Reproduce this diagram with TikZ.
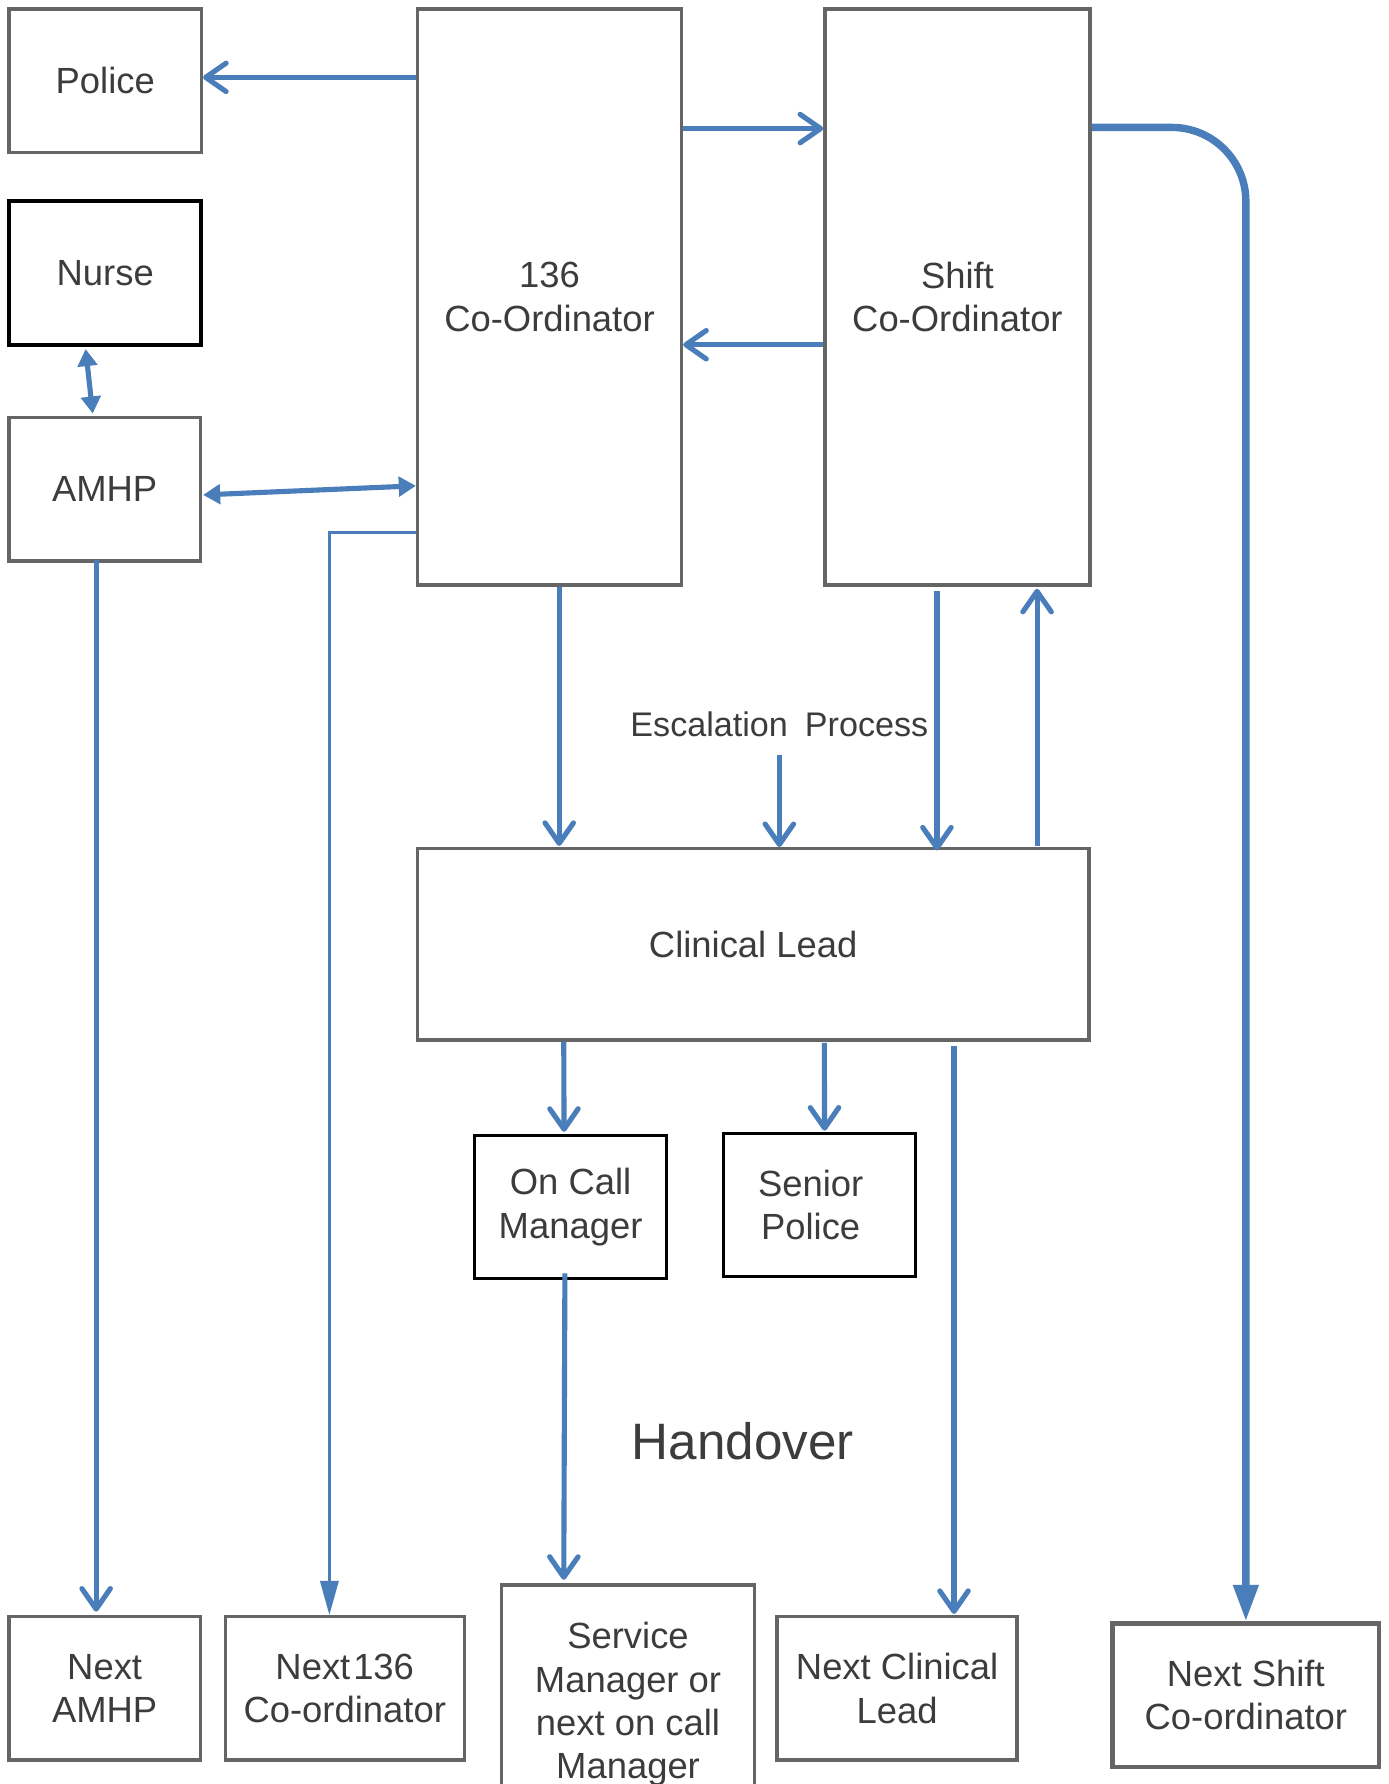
\documentclass[tikz,border=0pt]{standalone}
\usepackage{fontspec}
\setmainfont{Liberation Sans}
\usetikzlibrary{arrows.meta,calc}

\definecolor{linkblue}{HTML}{4A7EBB}
\definecolor{edgegray}{HTML}{656565}
\definecolor{inkgray}{HTML}{3C3C3C}

\tikzset{
  box/.style={draw=edgegray, line width=3pt, fill=white, rectangle,
              inner sep=0pt, align=center, text=inkgray,
              font=\fontsize{32}{38}\selectfont},
  darkbox/.style={box, draw=black},
  label/.style={text=inkgray, inner sep=0pt},
  link/.style={draw=linkblue, line width=4.5pt},
  openhead/.style={link, -{Straight Barb[length=18pt,width=25pt,line cap=round,line join=round]}},
  fillhead/.style={link, {Triangle[length=15pt,width=17pt]}-{Triangle[length=15pt,width=17pt]}},
}

\begin{document}
\begin{tikzpicture}[x=1pt,y=-1pt]
  \useasboundingbox (0,0) rectangle (1220,1568);
  \clip (0,0) rectangle (1220,1568);
  \fill[white] (0,0) rectangle (1220,1568);

  % upper row
  \node[box, minimum width=169pt, minimum height=126pt] (police) at (92.5,71) {Police};
  \node[darkbox, line width=3.5pt, minimum width=169pt, minimum height=126pt] (nurse) at (92.5,240) {Nurse};
  \node[box, minimum width=168pt, minimum height=126pt] (amhp) at (92,430) {AMHP};
  \node[box, minimum width=232pt, minimum height=506pt] (c136) at (483,261) {136\\Co-Ordinator};
  \node[box, minimum width=233pt, minimum height=506pt] (shift) at (841.5,261) {Shift\\Co-Ordinator};

  % escalation
  \node[label, font=\fontsize{30}{36}\selectfont] (esc) at (685,637) {Escalation\hspace{0.5em}Process};
  \node[box, minimum width=590pt, minimum height=168pt] (clin) at (662,830) {Clinical Lead};
  \node[darkbox, line width=2.5pt, minimum width=169pt, minimum height=126pt] (oncall) at (501.5,1061) {On Call\\Manager};
  \node[darkbox, line width=2.5pt, minimum width=169pt, minimum height=126pt] (senior) at (720.5,1059) {Senior\hspace*{16pt}\\Police\hspace*{16pt}};

  % handover
  \node[label, font=\fontsize{45}{54}\selectfont] (handover) at (653,1267) {Handover};
  \node[box, minimum width=168pt, minimum height=126pt] (nextamhp) at (92,1484) {Next\\AMHP};
  \node[box, minimum width=210pt, minimum height=126pt] (next136) at (303,1484) {Next\hspace{0.08em}136\\Co-ordinator};
  \node[box, minimum width=222pt, minimum height=210pt] (service) at (552,1498) {Service\\Manager or\\next on call\\Manager};
  \node[box, minimum width=211pt, minimum height=126pt] (nextclin) at (788.5,1484) {Next Clinical\\Lead};
  \node[box, line width=4pt, minimum width=234pt, minimum height=126pt] (nextshift) at (1095,1490) {Next Shift\\Co-ordinator};

  % horizontal levels used by the connectors
  \coordinate (lvlpol) at (0,68);
  \coordinate (lvlfwd) at (0,113);
  \coordinate (lvlback) at (0,303);
  \coordinate (lvlnext) at (0,112);
  \coordinate (lvlamhp) at (0,427);
  \coordinate (lvlhand) at (0,468);

  % links between the coordinators and their contacts
  \draw[openhead] (c136.west |- lvlpol) -- (police.east |- lvlpol);
  \draw[openhead] (c136.east |- lvlfwd) -- (shift.west |- lvlfwd);
  \draw[openhead] (shift.west |- lvlback) -- (c136.east |- lvlback);
  \draw[fillhead] ($(nurse.south west)+(69,2)$) -- ($(amhp.north west)+(75,-2)$);
  \draw[fillhead] ($(amhp.east)+(1,5)$) -- (c136.west |- lvlamhp);

  % escalation to the clinical lead
  \draw[openhead] ($(c136.south west)+(126,0)$) -- ($(clin.north west)+(126,-1)$);
  \draw[openhead] ($(esc.south)+(0,15)$) -- (esc.south |- clin.north);
  \draw[openhead] ($(shift.south west)+(100,4)$) -- ($(clin.north west)+(458,3)$);
  \draw[openhead] ($(clin.north west)+(546,-1)$) -- ($(shift.south west)+(188,2)$);
  \draw[openhead] ($(clin.south west)+(130,0)$) -- ($(oncall.north west)+(80,-2)$);
  \draw[openhead] ($(clin.south west)+(359,1)$) -- ($(senior.north west)+(90,-1)$);

  % handover to the next shift
  \draw[openhead] ($(amhp.south west)+(78,-2)$) -- ($(nextamhp.north west)+(78,-3)$);
  \draw[draw=linkblue, line width=2.4pt, -{Triangle[length=30pt,width=16pt]}]
    (c136.west |- lvlhand) -| ($(next136.north west)+(93,0)$);
  \draw[openhead] ($(oncall.south)+(-5,-6)$) -- ($(service.north west)+(56,-3)$);
  \draw[openhead] ($(clin.south west)+(473,4)$) -- ($(nextclin.north west)+(157,-1)$);
  \draw[draw=linkblue, line width=6.5pt, rounded corners=65pt, -{Triangle[length=32pt,width=21pt]}]
    (shift.east |- lvlnext) -| (nextshift.north);
\end{tikzpicture}
\end{document}
